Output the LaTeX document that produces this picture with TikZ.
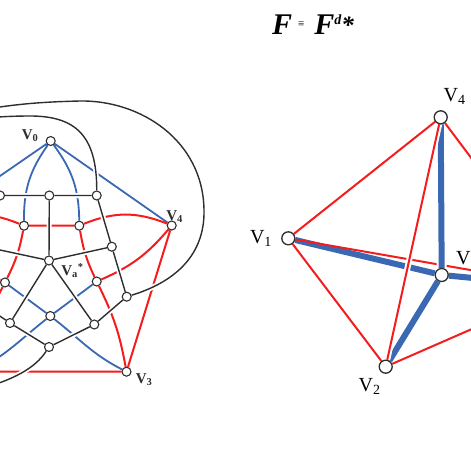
\documentclass[tikz,border=0pt]{standalone}
\usepackage{fontspec}
\setmainfont{Liberation Serif}
\usepackage{xcolor}
\usepackage{tikz}
\usetikzlibrary{positioning, backgrounds}
\definecolor{EdgeRed}{HTML}{F41C1C}
\definecolor{EdgeBlue}{HTML}{3A68B3}
\definecolor{DualBlack}{HTML}{2E2E2E}

\begin{document}
\begin{tikzpicture}[
  x=1pt, y=-1pt,
  vertex/.style={circle, draw=DualBlack, fill=white, line width=1.1pt, inner sep=0pt, minimum size=9pt},
  bigvertex/.style={circle, draw=DualBlack, fill=white, line width=1.3pt, inner sep=0pt, minimum size=13pt},
  redline/.style={draw=EdgeRed, line width=2pt},
  blueline/.style={draw=EdgeBlue, line width=1.8pt},
  thickblue/.style={draw=EdgeBlue, line width=6pt},
  dualline/.style={draw=DualBlack, line width=1.4pt, preaction={draw=white, line width=5pt}},
  halo/.style={preaction={draw=white, line width=#1}},
  vlabel/.style={inner sep=0pt, font=\fontsize{15}{15}\selectfont\bfseries, text=DualBlack},
  biglabel/.style={inner sep=0pt, font=\fontsize{20}{20}\selectfont, text=black},
  title/.style={inner sep=0pt, font=\fontsize{30}{30}\selectfont\bfseries\itshape}
]
\useasboundingbox (0,0) rectangle (470,470);
\clip (0,0) rectangle (470,470);

% left figure: pentagon V0..V4 and the dual around Va*
\node[vertex] (v0) at (50.7,141) {};
\node[vertex] (v4) at (171.7,225.5) {};
\node[vertex] (v3) at (126.5,371.7) {};
\node[vertex] (v1) at (-71.7,225.5) {};
\node[vertex] (v2) at (-26.5,371.7) {};
\node[vertex] (r1) at (24,225.7) {};
\node[vertex] (r2) at (79.3,225.7) {};
\node[vertex] (p2) at (96.7,281.5) {};
\node[vertex] (l) at (5,282.5) {};
\node[vertex] (q) at (50.3,316) {};

\node[vertex] (va) at (49,260.5) {};
\node[vertex] (b0) at (0,195.5) {};
\node[vertex] (a1) at (49.3,195.5) {};
\node[vertex] (b1) at (96.7,195.5) {};
\node[vertex] (a2) at (111.8,246.7) {};
\node[vertex] (c) at (126.7,296.7) {};
\node[vertex] (a3) at (94.3,324.5) {};
\node[vertex] (d) at (49,347) {};
\node[vertex] (a4) at (10,323) {};
\node[vertex] (e) at (-28,297) {};
\node[vertex] (a5) at (-14,247) {};
\coordinate (outb) at (-45,121);
\coordinate (outc) at (-25,111);
\coordinate (outd) at (-30,392);

\node[vlabel, left=7pt of v0, yshift=5pt] (lv0) {V\textsubscript{0}};
\node[vlabel, above=-2pt of v4, xshift=3pt] (lv4) {V\textsubscript{4}};
\node[vlabel, right=4pt of v3, yshift=-8pt] (lv3) {V\textsubscript{3}};
\node[vlabel, right=7pt of va, yshift=-10pt] (lva) {V\textsubscript{a}\textsuperscript{*}};

\begin{scope}[on background layer]
\draw[blueline] (v0) -- (v4) (v0) -- (v1)
  (v0) to[bend left=18] (r2) (v0) to[bend right=18] (r1)
  (l) -- (q) (q) to[out=-38,in=153] (v3)
  (p2) -- (q) (q) to[out=218,in=27] (v2);
\draw[redline] (r1) -- (r2) (r2) to[bend left=22] (v4) (r1) to[bend right=22] (v1)
  (r2) to[bend right=8] (p2) (r1) to[bend left=8] (l)
  (p2) to[bend right=13] (v4) (l) to[bend left=13] (v1)
  (p2) to[bend left=8] (v3) (l) to[bend right=8] (v2)
  (v4) -- (v3) (v3) -- (v2) (v1) -- (v2);
\draw[dualline] (b0) -- (a1) -- (b1) -- (a2) -- (c) -- (a3) -- (d) -- (a4) -- (e) -- (a5) -- (b0)
  (va) -- (a1) (va) -- (a2) (va) -- (a3) (va) -- (a4) (va) -- (a5)
  (b1) .. controls (97,135) and (75,116) .. (30,116) .. controls (5,116) and (-20,118) .. (outb)
  (c) .. controls (175,282) and (205,255) .. (204,210) .. controls (203,140) and (140,100) .. (80,101)
      .. controls (40,102) and (15,104) .. (outc)
  (d) .. controls (35,368) and (15,380) .. (outd);
\end{scope}

% right figure
\node[bigvertex] (w4) at (440.7,117.3) {};
\node[bigvertex] (w1) at (288.3,238.3) {};
\node[bigvertex] (w0) at (441.7,275) {};
\node[bigvertex] (w2) at (385.7,366.7) {};
\coordinate (w3) at (568,287);

\node[biglabel, above=5pt of w4, xshift=14pt] (lw4) {V\textsubscript{4}};
\node[biglabel, left=9pt of w1] (lw1) {V\textsubscript{1}};
\node[biglabel, below=4pt of w2, xshift=-16pt] (lw2) {V\textsubscript{2}};
\node[biglabel, right=7pt of w0, yshift=15pt] (lw0) {V\textsubscript{0}};

\begin{scope}[on background layer]
\draw[thickblue] (w1) -- (w0) (w0) -- (w2) (w0) -- (w3);
\draw[redline] (w1) -- (w3);
\draw[thickblue, halo=10pt] (w4) -- (w0);
\draw[redline, halo=6pt] (w4) -- (w2);
\draw[redline] (w1) -- (w4) (w1) -- (w2) (w4) -- (w3) (w2) -- (w3);
\end{scope}

\node[title, anchor=base west] (ttl) at (272,35) {F\hspace{6pt}\raisebox{7pt}{\fontsize{11}{11}\selectfont\upshape\mdseries ≡}\hspace{10pt}F\raisebox{10pt}{\fontsize{14}{14}\selectfont d}\raisebox{1pt}{\fontsize{25}{25}\selectfont *}};

\end{tikzpicture}
\end{document}
